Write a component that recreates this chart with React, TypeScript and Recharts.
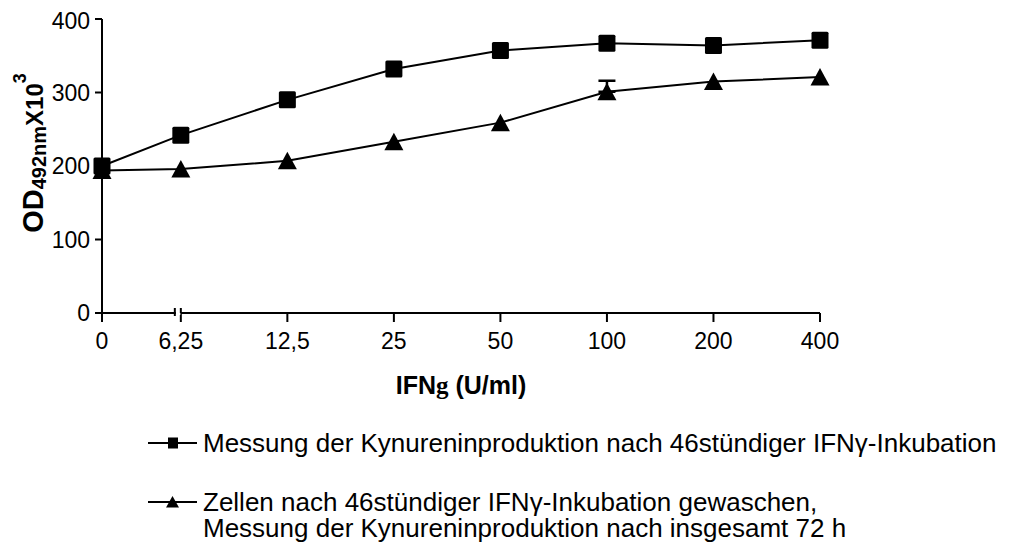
import React from "react";
import { LineChart, Line, XAxis, YAxis, ErrorBar, Legend } from "recharts";

// IFN-gamma concentrations (U/ml) shown on the x axis
const doses = ["0", "6,25", "12,5", "25", "50", "100", "200", "400"];
// OD492nm x10^3, measured after 46 h of IFN-gamma incubation
const kynurenin46h = [200, 242, 290, 332, 357, 367, 364, 371];
// OD492nm x10^3, cells washed after 46 h, measured after 72 h in total
const washed72h = [194, 196, 207, 233, 259, 301, 315, 321];
// upper error only (lower half sits behind the marker)
const washed72hErr: ([number, number] | undefined)[] = [
  undefined, undefined, undefined, undefined, undefined, [0, 15], undefined, undefined,
];
const yTicks = [0, 100, 200, 300, 400];

const legendLabels = [
  "Messung der Kynureninproduktion nach 46stündiger IFNγ-Inkubation",
  "Zellen nach 46stündiger IFNγ-Inkubation gewaschen,\nMessung der Kynureninproduktion nach insgesamt 72 h",
];

// the axis is broken between 0 and 6,25, so that first step is shorter
const BREAK_STEP = 0.74;
const xPos = (i: number) => (i === 0 ? 0 : BREAK_STEP + (i - 1));

const data = doses.map((dose, i) => ({
  pos: xPos(i),
  dose,
  kyn: kynurenin46h[i],
  washed: washed72h[i],
  err: washed72hErr[i],
}));

const FONT = "'Liberation Sans', Arial, sans-serif";
const TICK_SIZE = 9;
const TICK_MARGIN = 11;

const SquareDot = (props: any) => {
  const { cx, cy, index } = props;
  if (cx == null || cy == null) return <g key={`sq-${index}`} />;
  return <rect key={`sq-${index}`} x={cx - 8.5} y={cy - 8.5} width={17} height={17} rx={1.5} fill="#000" />;
};

const TriangleDot = (props: any) => {
  const { cx, cy, index } = props;
  if (cx == null || cy == null) return <g key={`tr-${index}`} />;
  return (
    <path
      key={`tr-${index}`}
      d={`M${cx},${cy - 9} L${cx + 9.5},${cy + 8.5} L${cx - 9.5},${cy + 8.5} Z`}
      fill="#000"
    />
  );
};

const DoseTick = (props: any) => {
  const { x, y, payload, index } = props;
  const axisY = y - TICK_SIZE - TICK_MARGIN;
  const label = doses[doses.findIndex((_, i) => Math.abs(xPos(i) - payload.value) < 1e-6)];
  return (
    <g>
      {index === 1 && (
        <g>
          <rect x={x - 5} y={axisY - 2} width={4.5} height={4} fill="#fff" />
          <line x1={x - 6} x2={x - 6} y1={axisY - 5} y2={axisY + 3} stroke="#000" strokeWidth={2} />
          <line x1={x} x2={x} y1={axisY - 5} y2={axisY} stroke="#000" strokeWidth={2} />
        </g>
      )}
      <text x={x} y={y} dy="0.71em" textAnchor="middle" fontFamily={FONT} fontSize={23} fill="#000">
        {label}
      </text>
    </g>
  );
};

const XTitle = (props: any) => {
  const { viewBox } = props;
  const cx = viewBox.x + viewBox.width / 2;
  return (
    <text x={cx} y={viewBox.y + 81} textAnchor="middle" fontFamily={FONT} fontWeight="bold" fontSize={25} fill="#000">
      IFN
      <tspan fontFamily="'Liberation Serif', 'Times New Roman', serif">g</tspan>
      <tspan> (U/ml)</tspan>
    </text>
  );
};

const YTitle = () => {
  const x = 35;
  const y = 145;
  return (
    <text
      x={x}
      y={y}
      transform={`rotate(-90, ${x}, ${y})`}
      textAnchor="middle"
      fontFamily={FONT}
      fontWeight="bold"
      fill="#000"
    >
      <tspan fontSize={29}>OD</tspan>
      <tspan fontSize={20} dy={3}>492nm</tspan>
      <tspan fontSize={24} dy={-3}>X10</tspan>
      <tspan fontSize={18} dy={-17}>3</tspan>
    </text>
  );
};

const LegendIcon = ({ kind }: { kind: "square" | "triangle" }) => (
  <svg width={55} height={26} style={{ flex: "none" }}>
    <line x1={0} x2={49} y1={13} y2={13} stroke="#000" strokeWidth={2} />
    {kind === "square" ? (
      <rect x={20} y={7.5} width={10} height={11} fill="#000" />
    ) : (
      <path d="M24.5,7 L31,18.5 L18,18.5 Z" fill="#000" />
    )}
  </svg>
);

const LegendContent = () => (
  <div style={{ fontFamily: FONT, fontSize: 26, lineHeight: "26px", color: "#000" }}>
    <div style={{ display: "flex", alignItems: "flex-start" }}>
      <LegendIcon kind="square" />
      <div>{legendLabels[0]}</div>
    </div>
    <div style={{ display: "flex", alignItems: "flex-start", marginTop: 33 }}>
      <LegendIcon kind="triangle" />
      <div style={{ whiteSpace: "pre-line", lineHeight: "26px" }}>{legendLabels[1]}</div>
    </div>
  </div>
);

export default function App() {
  return (
    <div style={{ width: 1011, height: 543, position: "relative" }}>
      <LineChart
        width={1011}
        height={543}
        data={data}
        margin={{ top: 11, right: 199, bottom: 208, left: 0 }}
      >
        <XAxis
          dataKey="pos"
          type="number"
          domain={[0, BREAK_STEP + doses.length - 2]}
          ticks={doses.map((_, i) => xPos(i))}
          tick={<DoseTick />}
          tickSize={TICK_SIZE}
          tickMargin={TICK_MARGIN}
          height={30}
          axisLine={{ stroke: "#000", strokeWidth: 2 }}
          tickLine={{ stroke: "#000", strokeWidth: 2 }}
          interval={0}
          allowDecimals
          label={{ content: <XTitle /> }}
        />
        <YAxis
          domain={[0, 400]}
          ticks={yTicks}
          width={94}
          tickSize={7}
          tickMargin={5}
          tick={{ fontFamily: FONT, fontSize: 23, fill: "#000" }}
          axisLine={{ stroke: "#000", strokeWidth: 2 }}
          tickLine={{ stroke: "#000", strokeWidth: 2 }}
          label={{ content: <YTitle /> }}
        />
        <Line
          dataKey="kyn"
          stroke="#000"
          strokeWidth={2}
          dot={SquareDot}
          activeDot={false}
          isAnimationActive={false}
        />
        <Line
          dataKey="washed"
          stroke="#000"
          strokeWidth={2}
          dot={TriangleDot}
          activeDot={false}
          isAnimationActive={false}
        >
          <ErrorBar dataKey="err" direction="y" width={8.5} stroke="#000" strokeWidth={2.5} isAnimationActive={false} />
        </Line>
        <Legend
          layout="horizontal"
          verticalAlign="middle"
          align="center"
          content={<LegendContent />}
          wrapperStyle={{ left: 140, top: 422, width: 871 }}
        />
      </LineChart>
    </div>
  );
}
